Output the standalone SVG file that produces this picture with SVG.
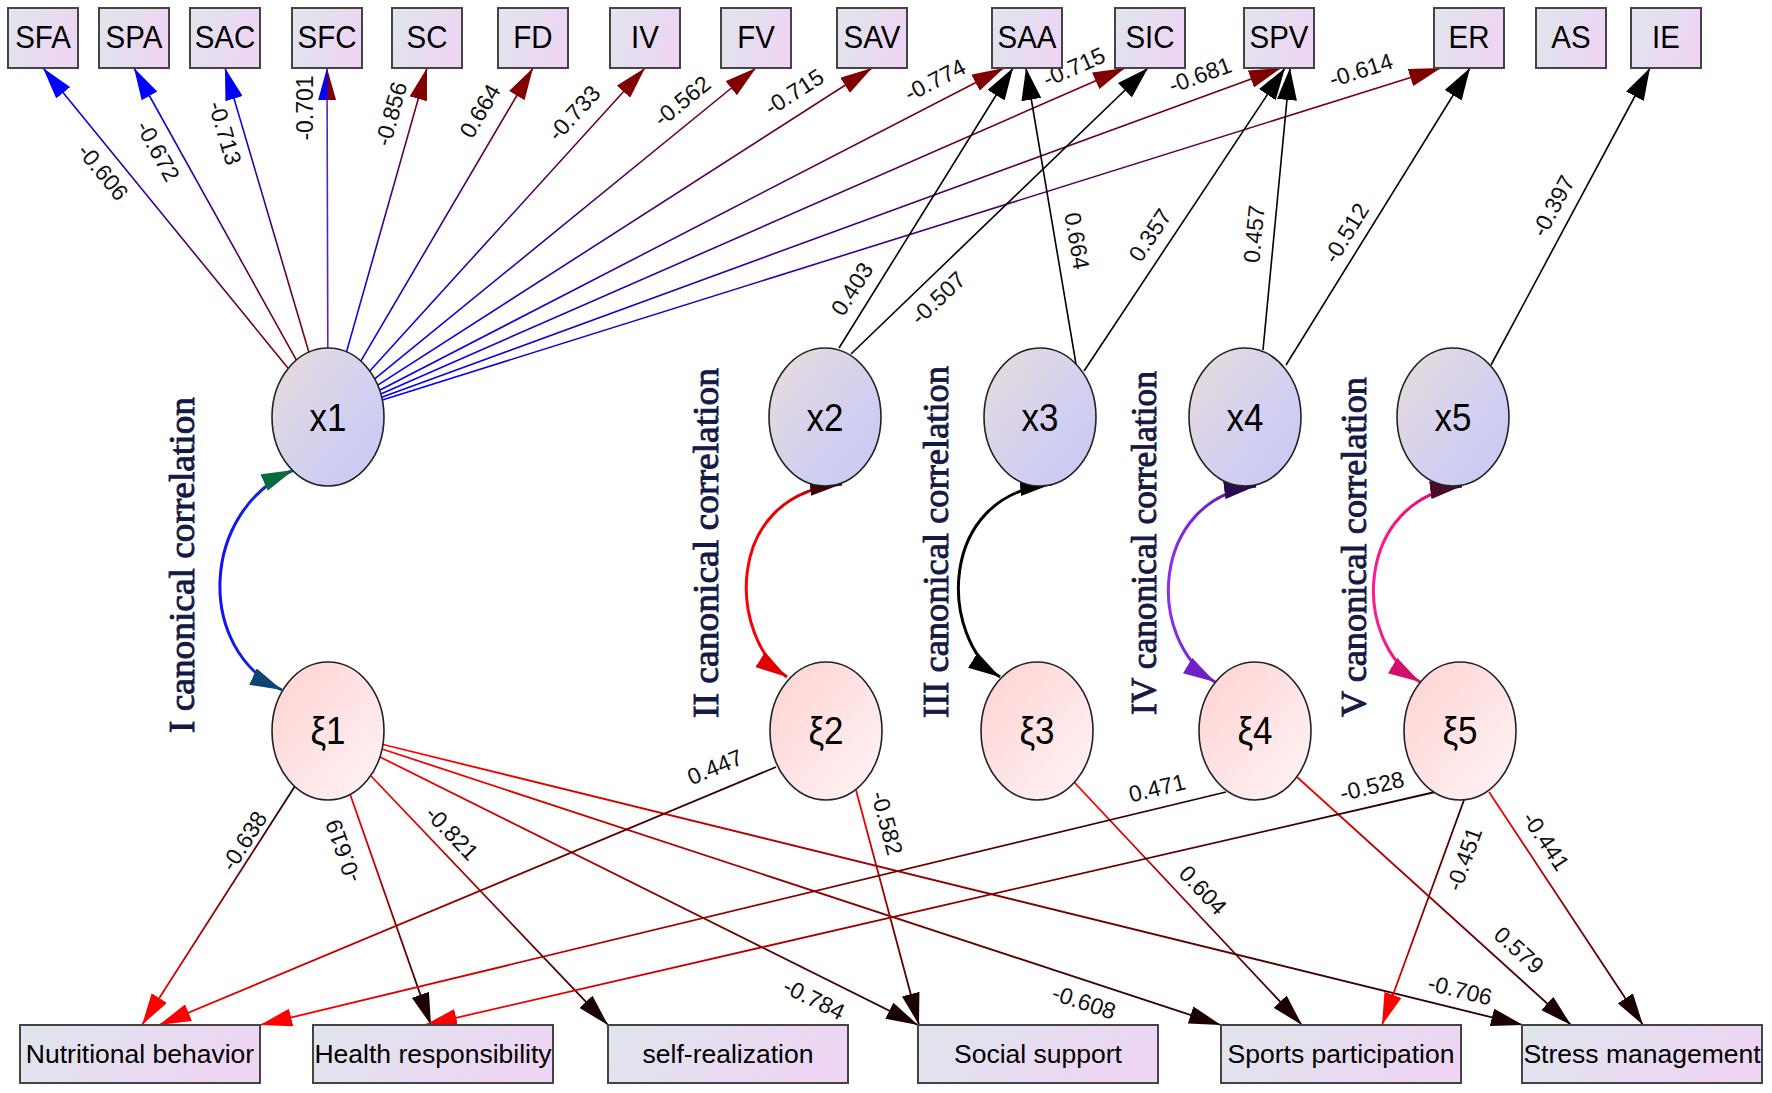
<svg xmlns="http://www.w3.org/2000/svg" width="1772" height="1093" viewBox="0 0 1772 1093">
<style>
.box{stroke:#444;stroke-width:2;fill:url(#gBox)}
.ex{stroke:#222;stroke-width:1.6;fill:url(#gX)}
.ek{stroke:#222;stroke-width:1.6;fill:url(#gK)}
.tt{font-family:"Liberation Sans",Arial,sans-serif;font-size:29.5px;fill:#000;text-anchor:middle}
.tb{font-family:"Liberation Sans",Arial,sans-serif;font-size:26.5px;fill:#000;text-anchor:middle}
.te{font-family:"Liberation Sans",Arial,sans-serif;font-size:35px;fill:#000;text-anchor:middle}
.lb{font-family:"Liberation Sans",Arial,sans-serif;font-size:23px;fill:#111;text-anchor:middle}
.cc{font-family:"Liberation Serif","Times New Roman",serif;font-size:35px;fill:#141a44;stroke:#141a44;stroke-width:0.9}
.et{fill:none;stroke:url(#gTop);stroke-width:1.6}
.ek2{fill:none;stroke:#000;stroke-width:1.6}
.eb{fill:none;stroke:url(#gBot);stroke-width:1.8}
.cv{fill:none;stroke-width:3}
</style>
<defs>
<linearGradient id="gBox" x1="0" y1="0" x2="1" y2="0.3"><stop offset="0" stop-color="#dfe6ec"/><stop offset="1" stop-color="#edd5f3"/></linearGradient>
<linearGradient id="gX" x1="0" y1="0" x2="1" y2="1"><stop offset="0" stop-color="#eadcdc"/><stop offset="0.6" stop-color="#d2d0f0"/><stop offset="1" stop-color="#c4c8f6"/></linearGradient>
<linearGradient id="gK" x1="0" y1="0" x2="1" y2="1"><stop offset="0" stop-color="#ffd2d2"/><stop offset="1" stop-color="#fff4f6"/></linearGradient>
<linearGradient id="gTop" x1="0" y1="0" x2="1" y2="0"><stop offset="0" stop-color="#0000ff"/><stop offset="1" stop-color="#800000"/></linearGradient>
<linearGradient id="gBot" x1="0" y1="0" x2="1" y2="0"><stop offset="0" stop-color="#ff0000"/><stop offset="1" stop-color="#200000"/></linearGradient>
<linearGradient id="gC1" x1="0" y1="0" x2="1" y2="0"><stop offset="0" stop-color="#1010ff"/><stop offset="0.7" stop-color="#1030c0"/><stop offset="1" stop-color="#0a5a4a"/></linearGradient>
<linearGradient id="gC2" x1="0" y1="0" x2="1" y2="0"><stop offset="0" stop-color="#ff0000"/><stop offset="0.6" stop-color="#d00000"/><stop offset="1" stop-color="#3a0000"/></linearGradient>
<linearGradient id="gC4" x1="0" y1="0" x2="1" y2="0"><stop offset="0" stop-color="#8a30e8"/><stop offset="0.6" stop-color="#6a20c0"/><stop offset="1" stop-color="#200040"/></linearGradient>
<linearGradient id="gC5" x1="0" y1="0" x2="1" y2="0"><stop offset="0" stop-color="#ff1a8c"/><stop offset="0.6" stop-color="#e0107a"/><stop offset="1" stop-color="#400020"/></linearGradient>
<linearGradient id="gSFC" x1="0" y1="0" x2="0" y2="1"><stop offset="0.45" stop-color="#0000ff"/><stop offset="0.6" stop-color="#800000"/></linearGradient>
<marker id="aBlue" markerUnits="userSpaceOnUse" markerWidth="32" markerHeight="18" viewBox="0 0 32 18" refX="32" refY="9" orient="auto"><path d="M0,0 L32,9 L0,18 Z" fill="#0000ff"/></marker>
<marker id="aMar" markerUnits="userSpaceOnUse" markerWidth="32" markerHeight="18" viewBox="0 0 32 18" refX="32" refY="9" orient="auto"><path d="M0,0 L32,9 L0,18 Z" fill="#800000"/></marker>
<marker id="aSFC" markerUnits="userSpaceOnUse" markerWidth="32" markerHeight="18" viewBox="0 0 32 18" refX="32" refY="9" orient="auto"><path d="M0,0 L32,9 L0,18 Z" fill="url(#gSFC)"/></marker>
<marker id="aBlk" markerUnits="userSpaceOnUse" markerWidth="32" markerHeight="20" viewBox="0 0 32 20" refX="32" refY="10" orient="auto"><path d="M0,0 L32,10 L0,20 Z" fill="#000"/></marker>
<marker id="aRed" markerUnits="userSpaceOnUse" markerWidth="32" markerHeight="18" viewBox="0 0 32 18" refX="32" refY="9" orient="auto"><path d="M0,0 L32,9 L0,18 Z" fill="#ff0000"/></marker>
<marker id="aDrk" markerUnits="userSpaceOnUse" markerWidth="32" markerHeight="18" viewBox="0 0 32 18" refX="32" refY="9" orient="auto"><path d="M0,0 L32,9 L0,18 Z" fill="#1a0000"/></marker>
<marker id="c1s" markerUnits="userSpaceOnUse" markerWidth="32" markerHeight="18" viewBox="0 0 32 18" refX="32" refY="9" orient="auto-start-reverse"><path d="M0,0 L32,9 L0,18 Z" fill="#0b6a40"/></marker>
<marker id="c1e" markerUnits="userSpaceOnUse" markerWidth="32" markerHeight="18" viewBox="0 0 32 18" refX="32" refY="9" orient="auto"><path d="M0,0 L32,9 L0,18 Z" fill="#0d4476"/></marker>
<marker id="c2s" markerUnits="userSpaceOnUse" markerWidth="32" markerHeight="18" viewBox="0 0 32 18" refX="32" refY="9" orient="auto-start-reverse"><path d="M0,0 L32,9 L0,18 Z" fill="#3a0000"/></marker>
<marker id="c2e" markerUnits="userSpaceOnUse" markerWidth="32" markerHeight="18" viewBox="0 0 32 18" refX="32" refY="9" orient="auto"><path d="M0,0 L32,9 L0,18 Z" fill="#e00000"/></marker>
<marker id="c3s" markerUnits="userSpaceOnUse" markerWidth="32" markerHeight="18" viewBox="0 0 32 18" refX="32" refY="9" orient="auto-start-reverse"><path d="M0,0 L32,9 L0,18 Z" fill="#000"/></marker>
<marker id="c3e" markerUnits="userSpaceOnUse" markerWidth="32" markerHeight="18" viewBox="0 0 32 18" refX="32" refY="9" orient="auto"><path d="M0,0 L32,9 L0,18 Z" fill="#000"/></marker>
<marker id="c4s" markerUnits="userSpaceOnUse" markerWidth="32" markerHeight="18" viewBox="0 0 32 18" refX="32" refY="9" orient="auto-start-reverse"><path d="M0,0 L32,9 L0,18 Z" fill="#2a0a50"/></marker>
<marker id="c4e" markerUnits="userSpaceOnUse" markerWidth="32" markerHeight="18" viewBox="0 0 32 18" refX="32" refY="9" orient="auto"><path d="M0,0 L32,9 L0,18 Z" fill="#7020c8"/></marker>
<marker id="c5s" markerUnits="userSpaceOnUse" markerWidth="32" markerHeight="18" viewBox="0 0 32 18" refX="32" refY="9" orient="auto-start-reverse"><path d="M0,0 L32,9 L0,18 Z" fill="#4a0a2a"/></marker>
<marker id="c5e" markerUnits="userSpaceOnUse" markerWidth="32" markerHeight="18" viewBox="0 0 32 18" refX="32" refY="9" orient="auto"><path d="M0,0 L32,9 L0,18 Z" fill="#d0106a"/></marker>
</defs>
<rect width="1772" height="1093" fill="#fff"/>

<g id="connectors">
<line class="et" x1="288.3" y1="368.4" x2="43" y2="68" marker-end="url(#aBlue)"/>
<line class="et" x1="296.4" y1="360.1" x2="134" y2="68" marker-end="url(#aBlue)"/>
<line class="et" x1="308.9" y1="352.2" x2="225" y2="68" marker-end="url(#aBlue)"/>
<line x1="327.8" y1="348" x2="327" y2="68" fill="none" stroke="#5a20c0" stroke-width="1.6" marker-end="url(#aSFC)"/>
<line class="et" x1="346.5" y1="351.9" x2="427" y2="68" marker-end="url(#aMar)"/>
<line class="et" x1="360.8" y1="361.1" x2="533" y2="68" marker-end="url(#aMar)"/>
<line class="et" x1="369.8" y1="371" x2="645" y2="68" marker-end="url(#aMar)"/>
<line class="et" x1="374.7" y1="378.9" x2="756" y2="68" marker-end="url(#aMar)"/>
<line class="et" x1="377.7" y1="385.1" x2="872" y2="68" marker-end="url(#aMar)"/>
<line class="et" x1="379.6" y1="390.3" x2="1004" y2="68" marker-end="url(#aMar)"/>
<line class="et" x1="380.8" y1="393.9" x2="1125" y2="68" marker-end="url(#aMar)"/>
<line class="et" x1="381.7" y1="397.3" x2="1281" y2="68" marker-end="url(#aMar)"/>
<line class="et" x1="382.3" y1="399.9" x2="1441" y2="68" marker-end="url(#aMar)"/>

<line class="ek2" x1="839" y1="348" x2="1013" y2="68" marker-end="url(#aBlk)"/>
<line class="ek2" x1="851" y1="354" x2="1148" y2="68" marker-end="url(#aBlk)"/>
<line class="ek2" x1="1076" y1="364" x2="1026" y2="68" marker-end="url(#aBlk)"/>
<line class="ek2" x1="1084" y1="371" x2="1285" y2="68" marker-end="url(#aBlk)"/>
<line class="ek2" x1="1263" y1="350" x2="1290" y2="68" marker-end="url(#aBlk)"/>
<line class="ek2" x1="1286" y1="365" x2="1470" y2="68" marker-end="url(#aBlk)"/>
<line class="ek2" x1="1491" y1="365" x2="1650" y2="68" marker-end="url(#aBlk)"/>

<path class="cv" stroke="url(#gC1)" d="M293.5,470 C200,510 195,650 282,690" marker-start="url(#c1s)" marker-end="url(#c1e)"/>
<path class="cv" stroke="url(#gC2)" d="M842,484 C720,495 730,640 787,677" marker-start="url(#c2s)" marker-end="url(#c2e)"/>
<path class="cv" stroke="#000" d="M1052,484 C935,495 940,640 1000,677" marker-start="url(#c3s)" marker-end="url(#c3e)"/>
<path class="cv" stroke="url(#gC4)" d="M1256,486 C1150,500 1145,640 1215,682" marker-start="url(#c4s)" marker-end="url(#c4e)"/>
<path class="cv" stroke="url(#gC5)" d="M1462,486 C1355,500 1350,640 1420,682" marker-start="url(#c5s)" marker-end="url(#c5e)"/>

<line class="eb" x1="295" y1="786" x2="142" y2="1025" marker-end="url(#aRed)"/>
<line class="eb" x1="350" y1="794" x2="431" y2="1025" marker-end="url(#aDrk)"/>
<line class="eb" x1="371" y1="776" x2="608" y2="1025" marker-end="url(#aDrk)"/>
<line class="eb" x1="380" y1="757" x2="918" y2="1025" marker-end="url(#aDrk)"/>
<line class="eb" x1="382" y1="749" x2="1221" y2="1025" marker-end="url(#aDrk)"/>
<line class="eb" x1="383" y1="744.5" x2="1523" y2="1025" marker-end="url(#aDrk)"/>
<line class="eb" x1="776" y1="767" x2="159" y2="1025" marker-end="url(#aRed)"/>
<line class="eb" x1="856" y1="790" x2="919" y2="1025" marker-end="url(#aDrk)"/>
<line class="eb" x1="1074" y1="782" x2="1302" y2="1025" marker-end="url(#aDrk)"/>
<line class="eb" x1="1226" y1="792" x2="260" y2="1025" marker-end="url(#aRed)"/>
<line class="eb" x1="1297" y1="777" x2="1571" y2="1025" marker-end="url(#aDrk)"/>
<line class="eb" x1="1435" y1="792" x2="425" y2="1025" marker-end="url(#aRed)"/>
<line class="eb" x1="1464" y1="800" x2="1382" y2="1025" marker-end="url(#aRed)"/>
<line class="eb" x1="1489" y1="792" x2="1643" y2="1025" marker-end="url(#aDrk)"/>

<g id="edge-labels">
<text class="lb" transform="translate(103,172) rotate(50.8)" y="8">-0.606</text>
<text class="lb" transform="translate(158,151) rotate(61)" y="8">-0.672</text>
<text class="lb" transform="translate(225,133) rotate(73.5)" y="8">-0.713</text>
<text class="lb" transform="translate(305,108) rotate(-90)" y="8">-0.701</text>
<text class="lb" transform="translate(391,114) rotate(-74.2)" y="8">-0.856</text>
<text class="lb" transform="translate(480,111) rotate(-59.6)" y="8">0.664</text>
<text class="lb" transform="translate(574,113) rotate(-47.8)" y="8">-0.733</text>
<text class="lb" transform="translate(682,101) rotate(-39.2)" y="8">-0.562</text>
<text class="lb" transform="translate(794,92) rotate(-32.7)" y="8">-0.715</text>
<text class="lb" transform="translate(935,80) rotate(-27.3)" y="8">-0.774</text>
<text class="lb" transform="translate(1074,67) rotate(-23.7)" y="8">-0.715</text>
<text class="lb" transform="translate(1200,75) rotate(-20.1)" y="8">-0.681</text>
<text class="lb" transform="translate(1361,70) rotate(-17.5)" y="8">-0.614</text>
<text class="lb" transform="translate(852,289) rotate(-57.4)" y="8">0.403</text>
<text class="lb" transform="translate(938,298) rotate(-43.4)" y="8">-0.507</text>
<text class="lb" transform="translate(1077,241) rotate(80.4)" y="8">0.664</text>
<text class="lb" transform="translate(1150,235) rotate(-56.3)" y="8">0.357</text>
<text class="lb" transform="translate(1254,234) rotate(-84.5)" y="8">0.457</text>
<text class="lb" transform="translate(1346,233) rotate(-58.4)" y="8">-0.512</text>
<text class="lb" transform="translate(1553,206) rotate(-61.7)" y="8">-0.397</text>
<text class="lb" transform="translate(244,841) rotate(-57.7)" y="8">-0.638</text>
<text class="lb" transform="translate(343,851) rotate(-109.3)" y="8">-0.619</text>
<text class="lb" transform="translate(452,833) rotate(46.4)" y="8">-0.821</text>
<text class="lb" transform="translate(814,999) rotate(26.5)" y="8">-0.784</text>
<text class="lb" transform="translate(1084,1002) rotate(18.2)" y="8">-0.608</text>
<text class="lb" transform="translate(1460,990) rotate(13.8)" y="8">-0.706</text>
<text class="lb" transform="translate(715,767) rotate(-22.7)" y="8">0.447</text>
<text class="lb" transform="translate(887,823) rotate(75)" y="8">-0.582</text>
<text class="lb" transform="translate(1203,890) rotate(46.8)" y="8">0.604</text>
<text class="lb" transform="translate(1157,788) rotate(-13.6)" y="8">0.471</text>
<text class="lb" transform="translate(1372,786) rotate(-13)" y="8">-0.528</text>
<text class="lb" transform="translate(1464,859) rotate(-70.1)" y="8">-0.451</text>
<text class="lb" transform="translate(1546,841) rotate(56.5)" y="8">-0.441</text>
<text class="lb" transform="translate(1519,950) rotate(42.1)" y="8">0.579</text>
</g>
</g>

<g id="canonical-labels">
<text class="cc" transform="translate(194,733) rotate(-90)" textLength="336" lengthAdjust="spacingAndGlyphs">I canonical correlation</text>
<text class="cc" transform="translate(718,718) rotate(-90)" textLength="350" lengthAdjust="spacingAndGlyphs">II  canonical correlation</text>
<text class="cc" transform="translate(948,718) rotate(-90)" textLength="352" lengthAdjust="spacingAndGlyphs">III  canonical correlation</text>
<text class="cc" transform="translate(1156,715) rotate(-90)" textLength="344" lengthAdjust="spacingAndGlyphs">IV canonical correlation</text>
<text class="cc" transform="translate(1366,717) rotate(-90)" textLength="340" lengthAdjust="spacingAndGlyphs">V  canonical correlation</text>
</g>

<g id="SFA"><rect class="box" x="8" y="8" width="70" height="60"/><text class="tt" transform="translate(43,48) scale(1,1.08)">SFA</text></g>
<g id="SPA"><rect class="box" x="99" y="8" width="70" height="60"/><text class="tt" transform="translate(134,48) scale(1,1.08)">SPA</text></g>
<g id="SAC"><rect class="box" x="190" y="8" width="70" height="60"/><text class="tt" transform="translate(225,48) scale(1,1.08)">SAC</text></g>
<g id="SFC"><rect class="box" x="292" y="8" width="70" height="60"/><text class="tt" transform="translate(327,48) scale(1,1.08)">SFC</text></g>
<g id="SC"><rect class="box" x="392" y="8" width="70" height="60"/><text class="tt" transform="translate(427,48) scale(1,1.08)">SC</text></g>
<g id="FD"><rect class="box" x="498" y="8" width="70" height="60"/><text class="tt" transform="translate(533,48) scale(1,1.08)">FD</text></g>
<g id="IV"><rect class="box" x="610" y="8" width="70" height="60"/><text class="tt" transform="translate(645,48) scale(1,1.08)">IV</text></g>
<g id="FV"><rect class="box" x="721" y="8" width="70" height="60"/><text class="tt" transform="translate(756,48) scale(1,1.08)">FV</text></g>
<g id="SAV"><rect class="box" x="837" y="8" width="70" height="60"/><text class="tt" transform="translate(872,48) scale(1,1.08)">SAV</text></g>
<g id="SAA"><rect class="box" x="992" y="8" width="70" height="60"/><text class="tt" transform="translate(1027,48) scale(1,1.08)">SAA</text></g>
<g id="SIC"><rect class="box" x="1115" y="8" width="70" height="60"/><text class="tt" transform="translate(1150,48) scale(1,1.08)">SIC</text></g>
<g id="SPV"><rect class="box" x="1244" y="8" width="70" height="60"/><text class="tt" transform="translate(1279,48) scale(1,1.08)">SPV</text></g>
<g id="ER"><rect class="box" x="1434" y="8" width="70" height="60"/><text class="tt" transform="translate(1469,48) scale(1,1.08)">ER</text></g>
<g id="AS"><rect class="box" x="1536" y="8" width="70" height="60"/><text class="tt" transform="translate(1571,48) scale(1,1.08)">AS</text></g>
<g id="IE"><rect class="box" x="1631" y="8" width="70" height="60"/><text class="tt" transform="translate(1666,48) scale(1,1.08)">IE</text></g>

<g id="x1"><ellipse class="ex" cx="328" cy="417" rx="56" ry="69"/><text class="te" transform="translate(328,431) scale(1,1.1)">x1</text></g>
<g id="x2"><ellipse class="ex" cx="825" cy="417" rx="56" ry="69"/><text class="te" transform="translate(825,431) scale(1,1.1)">x2</text></g>
<g id="x3"><ellipse class="ex" cx="1040" cy="417" rx="56" ry="69"/><text class="te" transform="translate(1040,431) scale(1,1.1)">x3</text></g>
<g id="x4"><ellipse class="ex" cx="1245" cy="417" rx="56" ry="69"/><text class="te" transform="translate(1245,431) scale(1,1.1)">x4</text></g>
<g id="x5"><ellipse class="ex" cx="1453" cy="417" rx="56" ry="69"/><text class="te" transform="translate(1453,431) scale(1,1.1)">x5</text></g>

<g id="xi1"><ellipse class="ek" cx="328" cy="731" rx="56" ry="69"/><text class="te" transform="translate(328,744) scale(1,1.1)">ξ1</text></g>
<g id="xi2"><ellipse class="ek" cx="826" cy="731" rx="56" ry="69"/><text class="te" transform="translate(826,744) scale(1,1.1)">ξ2</text></g>
<g id="xi3"><ellipse class="ek" cx="1037" cy="731" rx="56" ry="69"/><text class="te" transform="translate(1037,744) scale(1,1.1)">ξ3</text></g>
<g id="xi4"><ellipse class="ek" cx="1255" cy="731" rx="56" ry="69"/><text class="te" transform="translate(1255,744) scale(1,1.1)">ξ4</text></g>
<g id="xi5"><ellipse class="ek" cx="1460" cy="731" rx="56" ry="69"/><text class="te" transform="translate(1460,744) scale(1,1.1)">ξ5</text></g>

<g id="nutritional-behavior"><rect class="box" x="20" y="1025" width="240" height="58"/><text class="tb" x="140" y="1063">Nutritional behavior</text></g>
<g id="health-responsibility"><rect class="box" x="313" y="1025" width="240" height="58"/><text class="tb" x="433" y="1063">Health responsibility</text></g>
<g id="self-realization"><rect class="box" x="608" y="1025" width="240" height="58"/><text class="tb" x="728" y="1063">self-realization</text></g>
<g id="social-support"><rect class="box" x="918" y="1025" width="240" height="58"/><text class="tb" x="1038" y="1063">Social support</text></g>
<g id="sports-participation"><rect class="box" x="1221" y="1025" width="240" height="58"/><text class="tb" x="1341" y="1063">Sports participation</text></g>
<g id="stress-management"><rect class="box" x="1522" y="1025" width="240" height="58"/><text class="tb" x="1642" y="1063">Stress management</text></g>
</svg>
